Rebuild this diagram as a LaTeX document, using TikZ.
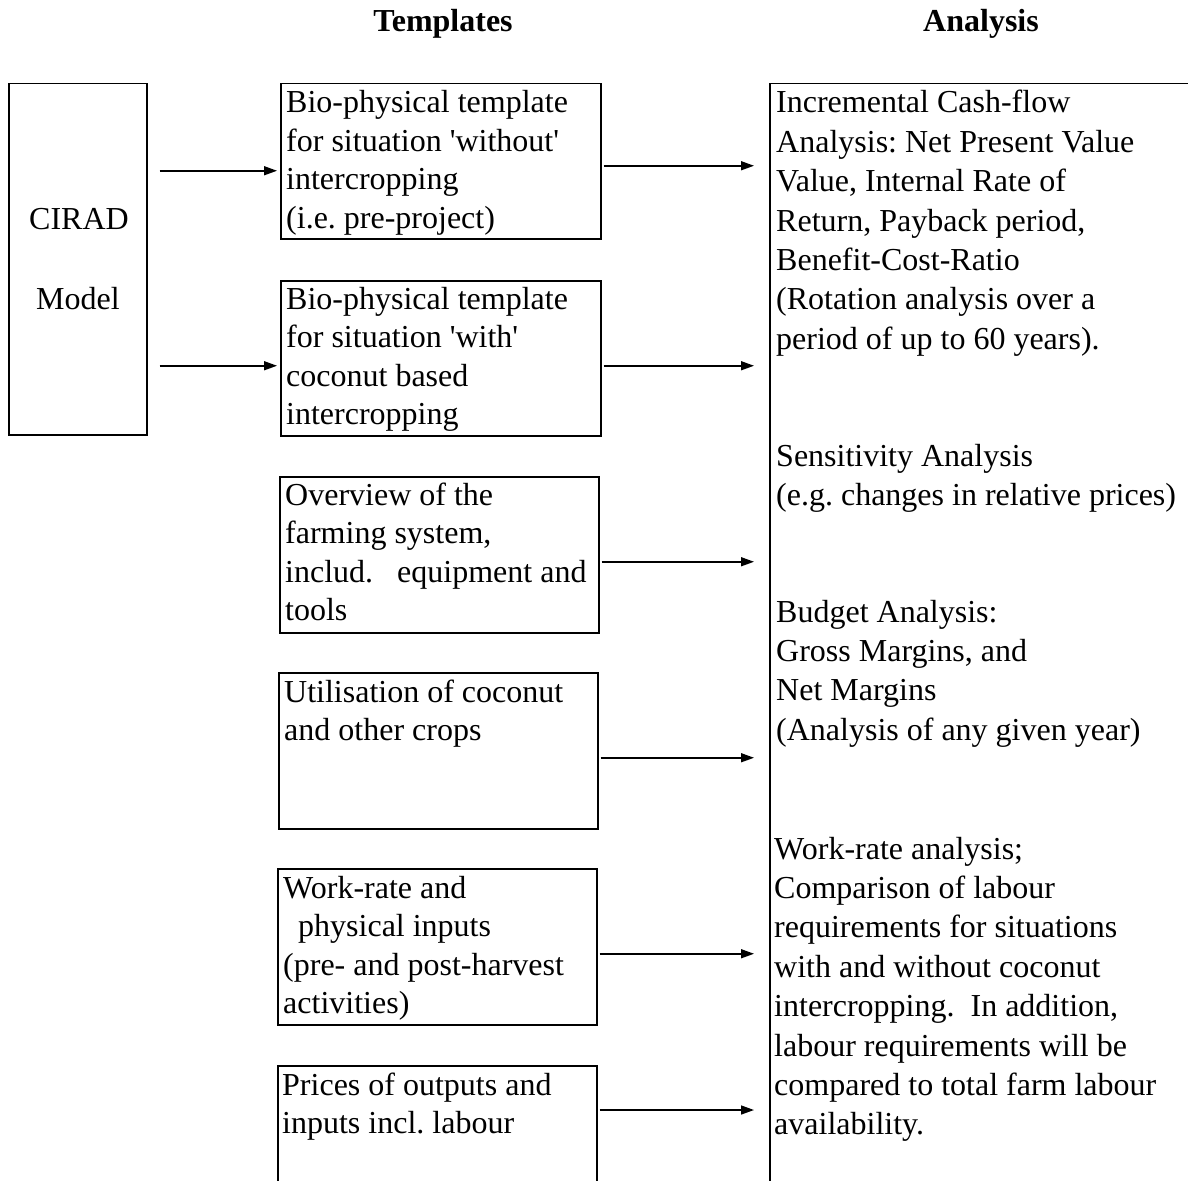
\documentclass[tikz,border=0pt]{standalone}
\usepackage{fontspec}
\setmainfont{Liberation Serif}
\usetikzlibrary{arrows.meta}
\frenchspacing
\newcommand\mylines[1]{\begin{tabular}[t]{@{}l@{}}#1\end{tabular}}
\newcommand\tfont{\fontsize{32}{38.5}\selectfont}
\newcommand\afont{\fontsize{32}{39.4}\selectfont}
\newcommand\sq{\textquotesingle}
\tikzset{
  box/.style={draw, line width=1.5pt, inner sep=0pt, anchor=north west},
  txt/.style={anchor=base west, inner sep=0pt, font=\tfont},
  atxt/.style={anchor=base west, inner sep=0pt, font=\afont},
  hdr/.style={anchor=base, inner sep=0pt, font=\tfont\bfseries},
  arr/.style={line width=1.5pt, -{Triangle[length=13pt,width=9pt]}}
}
\begin{document}
\begin{tikzpicture}[x=1pt,y=-1pt]
\clip (0,0) rectangle (1188,1180);
\fill[white] (0,0) rectangle (1188,1180);
% headers
\node[hdr] (h1) at (443,32) {Templates};
\node[hdr] (h2) at (981,32) {Analysis};
% CIRAD model
\node[box, minimum width=138pt, minimum height=351pt] (cirad) at (8,83) {};
\node[txt, anchor=base] (c1) at (79,229) {CIRAD};
\node[txt, anchor=base] (c2) at (78,309) {Model};
% template boxes
\node[box, minimum width=320pt, minimum height=155pt] (t1) at (280,83) {};
\node[box, minimum width=320pt, minimum height=155pt] (t2) at (280,280) {};
\node[box, minimum width=319pt, minimum height=156pt] (t3) at (279,476) {};
\node[box, minimum width=319pt, minimum height=156pt] (t4) at (278,672) {};
\node[box, minimum width=319pt, minimum height=156pt] (t5) at (277,868) {};
\node[box, minimum width=319pt, minimum height=160pt] (t6) at (277,1065) {};
\node[txt] (t1x) at ([shift={(6pt,-30pt)}]t1.north west) {\mylines{Bio-physical template\\for situation \sq without\sq\\intercropping\\(i.e. pre-project)}};
\node[txt] (t2x) at ([shift={(6pt,-29pt)}]t2.north west) {\mylines{Bio-physical template\\for situation \sq with\sq\\coconut based\\intercropping}};
\node[txt] (t3x) at ([shift={(6pt,-29pt)}]t3.north west) {\mylines{Overview of the\\farming system,\\includ.\ \ \ equipment and\\tools}};
\node[txt] (t4x) at ([shift={(6pt,-30pt)}]t4.north west) {\mylines{Utilisation of coconut\\and other crops}};
\node[txt] (t5x) at ([shift={(6pt,-30pt)}]t5.north west) {\mylines{Work-rate and\\\hspace{15pt}physical inputs\\(pre- and post-harvest\\activities)}};
\node[txt] (t6x) at ([shift={(5pt,-30pt)}]t6.north west) {\mylines{Prices of outputs and\\inputs incl. labour}};
% analysis box
\node[box, minimum width=460pt, minimum height=1150pt] (ana) at (769,83) {};
\node[atxt] (a1) at (776,113) {\mylines{Incremental Cash-flow\\Analysis: Net Present Value\\Value, Internal Rate of\\Return, Payback period,\\Benefit-Cost-Ratio\\(Rotation analysis over a\\period of up to 60 years).}};
\node[atxt] (a2) at (776,466) {\mylines{Sensitivity Analysis\\(e.g. changes in relative prices)}};
\node[atxt] (a3) at (776,622) {\mylines{Budget Analysis:\\Gross Margins, and\\Net Margins\\(Analysis of any given year)}};
\node[atxt] (a4) at (774,859) {\mylines{Work-rate analysis;\\Comparison of labour\\requirements for situations\\with and without coconut\\intercropping.\ \ In addition,\\labour requirements will be\\compared to total farm labour\\availability.}};
% arrows from CIRAD
\coordinate (p1) at ([yshift=-9.5pt]t1.west);
\coordinate (p2) at ([yshift=-7.5pt]t2.west);
\draw[arr, shorten <=12pt, shorten >=3pt] (cirad.east |- p1) -- (p1);
\draw[arr, shorten <=12pt, shorten >=3pt] (cirad.east |- p2) -- (p2);
% arrows to analysis
\coordinate (q1) at ([yshift=-4.5pt]t1.east);
\coordinate (q2) at ([yshift=-7.5pt]t2.east);
\coordinate (q3) at ([yshift=-7pt]t3.east);
\coordinate (q4) at ([yshift=-7pt]t4.east);
\coordinate (q5) at ([yshift=-7pt]t5.east);
\coordinate (q6) at ([yshift=-45pt]t6.north east);
\foreach \q in {q1,q2,q3,q4,q5,q6}{
  \draw[arr, shorten <=2pt, shorten >=15pt] (\q) -- (\q -| ana.west);
}
\end{tikzpicture}
\end{document}
